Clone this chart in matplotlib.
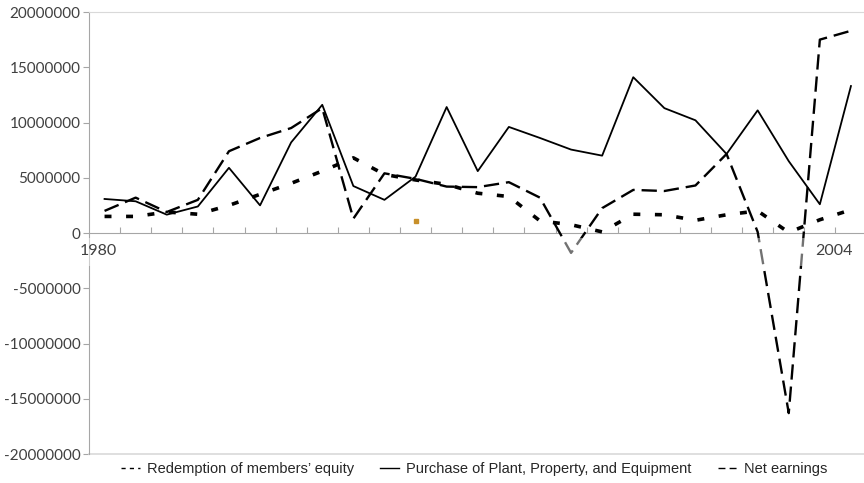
import matplotlib
matplotlib.use("Agg")
import matplotlib.pyplot as plt
from matplotlib.lines import Line2D
from matplotlib.patches import Rectangle
import numpy as np

plt.rcParams['lines.scale_dashes'] = False

# yearly cash flow figures (dollars)
years = list(range(1980, 2005))
redemption = [1.5, 1.5, 1.9, 1.7, 2.5, 3.5, 4.5, 5.6, 6.8, 5.3, 4.8, 4.4, 3.6,
              3.3, 1.1, 0.75, 0.1, 1.7, 1.65, 1.15, 1.65, 2.0, 0.05, 1.2, 2.1]
purchase = [3.08, 2.87, 1.66, 2.4, 5.9, 2.5, 8.2, 11.6, 4.25, 3.0, 5.1, 11.4, 5.6,
            9.6, 8.6, 7.55, 7.0, 14.1, 11.3, 10.2, 7.15, 11.1, 6.5, 2.6, 13.3]
net_earnings = [2.0, 3.2, 1.9, 3.0, 7.4, 8.6, 9.5, 11.3, 1.3, 5.4, 4.9, 4.2, 4.15,
                4.6, 3.2, -1.8, 2.25, 3.9, 3.8, 4.3, 7.15, 0.1, -16.3, 17.5, 18.3]
stray_year = [1990]
stray_value = [1.1]

redemption = np.array(redemption) * 1e6
purchase = np.array(purchase) * 1e6
net_earnings = np.array(net_earnings) * 1e6
stray_value = np.array(stray_value) * 1e6

series_names = ["Redemption of members\u2019 equity",
                "Purchase of Plant, Property, and Equipment",
                "Net earnings"]
yticks = list(range(-20000000, 20000001, 5000000))

tick_font = 'Lato'
legend_font = 'Liberation Sans'
grey_txt = '#404040'

fig = plt.figure(figsize=(8.64, 4.83), dpi=100)
ax = fig.add_axes([89 / 864, 1 - 454 / 483, 1 - 89 / 864, (454 - 12) / 483])

ax.plot(years, purchase, color='black', lw=1.3, zorder=3)
ax.plot(years, net_earnings, color='black', lw=1.7, dashes=(11, 5), zorder=3)
ax.plot(years, redemption, color='black', lw=2.6, dashes=(5, 10.5), zorder=3)
ax.plot(stray_year, stray_value, 's', color='#c8902a', ms=2.5, zorder=3)

ax.set_ylim(-20000000, 20000000)
ax.set_xlim(1979.5, 1979.5 + (864 - 89) / 31.1)

# category axis sits on zero, ticks between years
ax.spines['bottom'].set_position(('data', 0))
ax.spines['bottom'].set_color('#a6a6a6')
ax.spines['left'].set_color('#a6a6a6')
ax.spines['right'].set_visible(False)
ax.spines['top'].set_color('#d9d9d9')
ax.axhline(-20000000, color='#d9d9d9', lw=1.2, clip_on=False)

ax.set_xticks([y - 0.5 for y in years[1:]])
ax.set_xticklabels([])
ax.tick_params(axis='x', direction='in', length=4, color='#a6a6a6')
ax.set_yticks(yticks)
ax.set_yticklabels([str(v) for v in yticks], fontsize=11, family=tick_font,
                   color=grey_txt)
ax.tick_params(axis='y', direction='out', length=4, pad=2, color='#a6a6a6')

# white label band just below the zero line
ax.add_patch(Rectangle((-0.005, 0.4253), 1.01, 0.0634, transform=ax.transAxes,
                       facecolor='white', alpha=0.45, edgecolor='none',
                       zorder=4, clip_on=False))
ax.text(years[0] - 0.2, -1650000, str(years[0]), ha='center', va='center',
        fontsize=11.5, family=tick_font, color=grey_txt, zorder=5)
ax.text(years[-1] + 0.05, -1650000, str(years[-1]), ha='right', va='center',
        fontsize=11.5, family=tick_font, color=grey_txt, zorder=5)

handles = [Line2D([], [], color='black', lw=1, dashes=(3, 3)),
           Line2D([], [], color='black', lw=1),
           Line2D([], [], color='black', lw=1, dashes=(5, 3))]
ax.legend(handles, series_names, loc='center', ncol=3,
          bbox_to_anchor=(0.497, -0.034), frameon=False,
          handlelength=1.3, handletextpad=0.5, columnspacing=1.8,
          borderpad=0, prop={'family': legend_font, 'size': 10.5},
          labelcolor='#262626')

fig.savefig('out.png', dpi=100)
